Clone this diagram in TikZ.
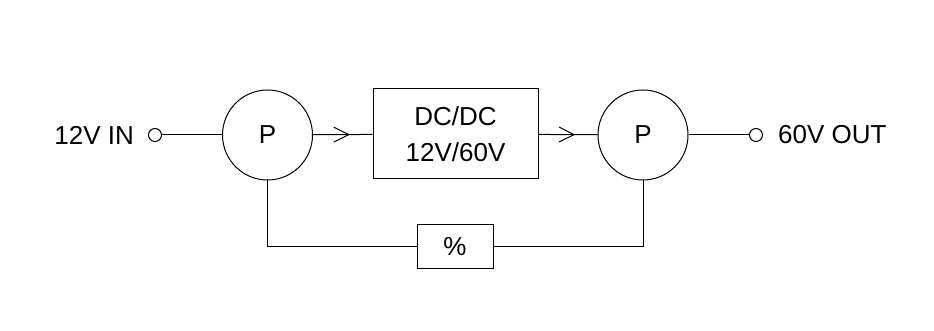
\documentclass[tikz,border=0pt]{standalone}
\usepackage{fontspec}
\setmainfont{Liberation Sans}
\usetikzlibrary{arrows.meta, positioning, decorations.markings}

\begin{document}
\begin{tikzpicture}[x=0.5pt, y=0.5pt, line width=0.5pt,
		every node/.style={font=\fontsize{13}{15}\selectfont},
		pump/.style={draw, circle, minimum size=45pt, inner sep=0pt},
		blockbox/.style={draw, rectangle, inner sep=0pt},
		term/.style={draw, circle, minimum size=6.5pt, inner sep=0pt},
		midarrow/.style={postaction={decorate}, decoration={markings,
			mark=at position 0.62 with {\arrow{Straight Barb[length=7.5pt, width=7.5pt]}}}}]
		\useasboundingbox (0,0) rectangle (934,331);
		\node[pump] (pin) at (267.5,196) {P};
		\node[blockbox, minimum width=82.5pt, minimum height=45pt, align=center] (conv) at (455.5,197) {DC/DC\\[3pt]12V/60V};
		\node[pump] (pout) at (643,196) {P};
		\node[term] (tin) at (155,196) {};
		\node[term] (tout) at (756,196) {};
		\node[left=3.5pt of tin] (lin) {12V IN};
		\node[right=4pt of tout] (lout) {60V OUT};
		\node[blockbox, minimum width=38pt, minimum height=22pt] (pct) at (455,84) {\%};
		\draw (tin) -- (pin);
		\draw[midarrow] (pin) -- (conv);
		\draw[midarrow] (conv) -- (pout);
		\draw (pout) -- (tout);
		\draw (pin.south) |- (pct.west);
		\draw (pout.south) |- (pct.east);
	\end{tikzpicture}
\end{document}
